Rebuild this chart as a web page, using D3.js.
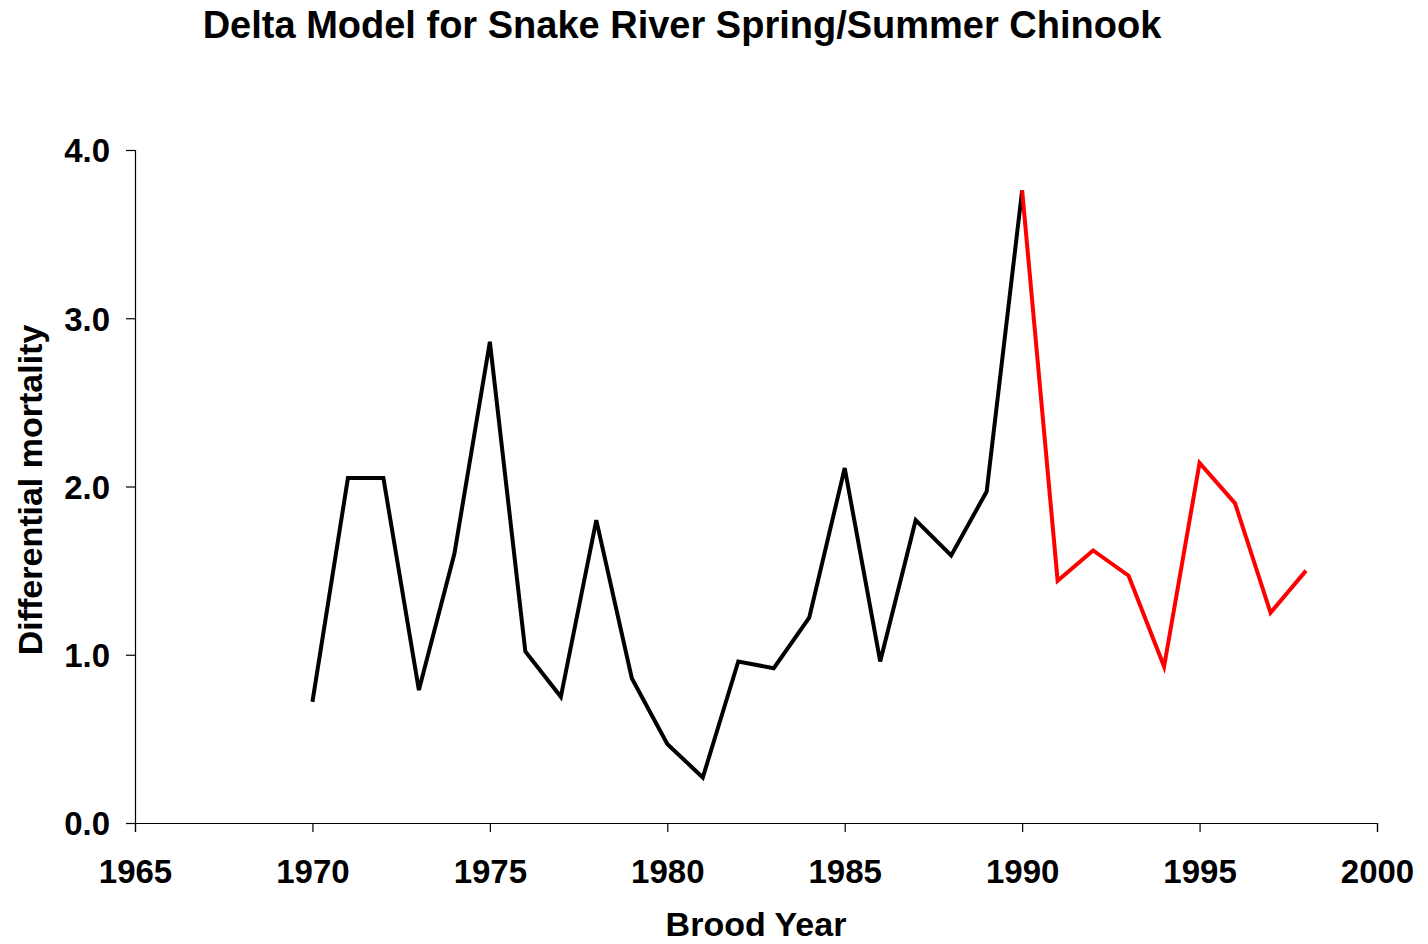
<!DOCTYPE html>
<html>
<head>
<meta charset="utf-8">
<script src="https://cdn.jsdelivr.net/npm/d3@7"></script>
<style>
  body { margin: 0; background: #ffffff; }
  text { font-family: "Liberation Sans", Arial, sans-serif; font-weight: bold; }
</style>
</head>
<body>
<div id="chart"></div>
<script>
// brood years and differential mortality values
var yearsA = [1970, 1971, 1972, 1973, 1974, 1975, 1976, 1977, 1978, 1979, 1980,
              1981, 1982, 1983, 1984, 1985, 1986, 1987, 1988, 1989, 1990];
var valuesA = [0.72, 2.05, 2.05, 0.79, 1.60, 2.86, 1.02, 0.75, 1.80, 0.86, 0.47,
               0.27, 0.96, 0.92, 1.22, 2.11, 0.96, 1.80, 1.59, 1.97, 3.76];
var yearsB = [1990, 1991, 1992, 1993, 1994, 1995, 1996, 1997, 1998];
var valuesB = [3.76, 1.44, 1.62, 1.47, 0.93, 2.14, 1.90, 1.25, 1.50];

var xTicks = [1965, 1970, 1975, 1980, 1985, 1990, 1995, 2000];
var yTicks = [0, 1, 2, 3, 4];

var width = 1428, height = 944;
var margin = {left: 135, right: 51, top: 150, bottom: 121};

var svg = d3.select("#chart").append("svg")
    .attr("width", width)
    .attr("height", height);

var x = d3.scaleLinear().domain([1965, 2000]).range([margin.left, width - margin.right]);
var y = d3.scaleLinear().domain([0, 4]).range([height - margin.bottom, margin.top]);

// axes
var xAxis = svg.append("g")
    .attr("transform", "translate(0," + (height - margin.bottom) + ")")
    .call(d3.axisBottom(x).tickValues(xTicks).tickFormat(d3.format("d")).tickSizeOuter(0).tickSize(9).tickPadding(28));

var yAxis = svg.append("g")
    .attr("transform", "translate(" + margin.left + ",0)")
    .call(d3.axisLeft(y).tickValues(yTicks).tickFormat(d3.format(".1f")).tickSizeOuter(0).tickSize(9).tickPadding(16));

svg.selectAll(".domain, .tick line").attr("stroke", "#000").attr("stroke-width", 1.2);
svg.selectAll(".tick text")
    .attr("font-size", "33px")
    .attr("font-family", "Liberation Sans, Arial, sans-serif")
    .attr("font-weight", "bold")
    .attr("fill", "#000");
yAxis.selectAll(".tick text").attr("dy", "0.36em");

// lines
var line = d3.line()
    .x(d => x(d[0]))
    .y(d => y(d[1]));

svg.append("path")
    .datum(d3.zip(yearsA, valuesA))
    .attr("fill", "none")
    .attr("stroke", "#000")
    .attr("stroke-width", 4)
    .attr("stroke-linejoin", "miter")
    .attr("d", line);

svg.append("path")
    .datum(d3.zip(yearsB, valuesB))
    .attr("fill", "none")
    .attr("stroke", "#ff0000")
    .attr("stroke-width", 4)
    .attr("stroke-linejoin", "miter")
    .attr("d", line);

// titles
svg.append("text")
    .attr("x", 682)
    .attr("y", 38)
    .attr("text-anchor", "middle")
    .attr("font-size", "38px")
    .text("Delta Model for Snake River Spring/Summer Chinook");

svg.append("text")
    .attr("x", 756)
    .attr("y", 936)
    .attr("text-anchor", "middle")
    .attr("font-size", "34px")
    .text("Brood Year");

svg.append("text")
    .attr("transform", "translate(42,490) rotate(-90)")
    .attr("text-anchor", "middle")
    .attr("font-size", "34px")
    .text("Differential mortality");
</script>
</body>
</html>
